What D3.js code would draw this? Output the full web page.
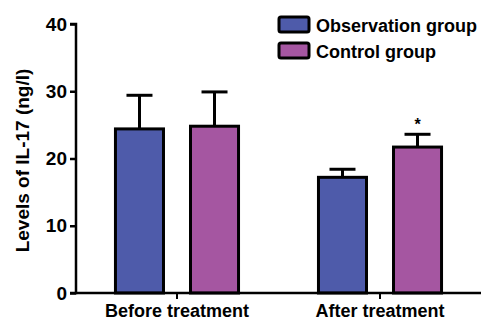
<!DOCTYPE html>
<html><head><meta charset="utf-8">
<script src="https://cdn.jsdelivr.net/npm/d3@7"></script>
<style>body{margin:0;background:#fff}svg{display:block}text{font-family:Arial,"Liberation Sans",sans-serif;font-weight:bold}</style>
</head><body>
<script>
const categories = ["Before treatment", "After treatment"];
const seriesNames = ["Observation group", "Control group"];
const observationMeans = [24.4, 17.2];
const observationErr = [5.0, 1.2];
const controlMeans = [24.8, 21.7];
const controlErr = [5.1, 1.9];
const significance = ["", "*"];
const yTicks = [0, 10, 20, 30, 40];
const colors = ["#4E5BAA", "#A556A1"];

const W = 483, H = 322;
const svg = d3.select("body").append("svg").attr("width", W).attr("height", H);
const mLeft = 76, mRight = 481, mTop = 24, mBottom = 293;

const y = d3.scaleLinear().domain([0, 40]).range([mBottom, mTop]);
const x0 = d3.scaleBand().domain(categories).range([mLeft, mRight]).paddingInner(0.379).paddingOuter(0.187);
const x1 = d3.scaleBand().domain(seriesNames).range([0, x0.bandwidth()]).paddingInner(0.32);

const data = categories.map((c, i) => ({
  cat: c,
  vals: [
    {s: seriesNames[0], m: observationMeans[i], e: observationErr[i], sig: ""},
    {s: seriesNames[1], m: controlMeans[i], e: controlErr[i], sig: significance[i]}
  ]
}));

const g = svg.append("g");
data.forEach(d => {
  d.vals.forEach((v, j) => {
    const bx = x0(d.cat) + x1(v.s) + 1.5;
    const bw = x1.bandwidth() - 3;
    const cx = bx + bw / 2;
    g.append("line").attr("x1", cx).attr("x2", cx).attr("y1", y(v.m)).attr("y2", y(v.m + v.e))
      .attr("stroke", "#000").attr("stroke-width", 3);
    g.append("line").attr("x1", cx - 13).attr("x2", cx + 13).attr("y1", y(v.m + v.e)).attr("y2", y(v.m + v.e))
      .attr("stroke", "#000").attr("stroke-width", 3);
    g.append("rect").attr("x", bx).attr("y", y(v.m)).attr("width", bw).attr("height", y(0) - y(v.m))
      .attr("fill", colors[j]).attr("stroke", "#000").attr("stroke-width", 3);
    if (v.sig) {
      g.append("text").attr("x", cx).attr("y", y(v.m + v.e) - 4).attr("text-anchor", "middle")
        .attr("font-size", 16).text(v.sig);
    }
  });
});

const yAxis = svg.append("g").attr("transform", `translate(${mLeft},0)`)
  .call(d3.axisLeft(y).tickValues(yTicks).tickSize(6).tickPadding(3));
yAxis.select(".domain").attr("stroke-width", 2.5).attr("d", `M-6,${y(40)}H0V${mBottom}H-6`);
yAxis.selectAll(".tick line").attr("stroke-width", 2.5);
yAxis.selectAll(".tick text").attr("font-size", 19).attr("fill", "#000").attr("font-weight", "bold");

const xAxis = svg.append("g").attr("transform", `translate(0,${mBottom})`)
  .call(d3.axisBottom(x0).tickSize(6).tickPadding(6));
xAxis.select(".domain").attr("stroke-width", 2.5).attr("d", `M${mLeft},0H${mRight}`);
xAxis.selectAll(".tick line").attr("stroke-width", 2);
xAxis.selectAll(".tick text").attr("font-size", 18).attr("y", 11).attr("fill", "#000").attr("font-weight", "bold");

svg.append("text").attr("transform", `translate(29,${(mTop + mBottom) / 2 + 2}) rotate(-90)`)
  .attr("text-anchor", "middle").attr("font-size", 19).text("Levels of IL-17 (ng/l)");

const leg = svg.append("g").attr("transform", "translate(279,17)");
seriesNames.forEach((s, i) => {
  leg.append("rect").attr("x", 0).attr("y", i * 26).attr("width", 30).attr("height", 15)
    .attr("rx", 2).attr("fill", colors[i]).attr("stroke", "#000").attr("stroke-width", 3);
  leg.append("text").attr("x", 37).attr("y", i * 26 + 15).attr("font-size", 18).text(s);
});
</script>
</body></html>
